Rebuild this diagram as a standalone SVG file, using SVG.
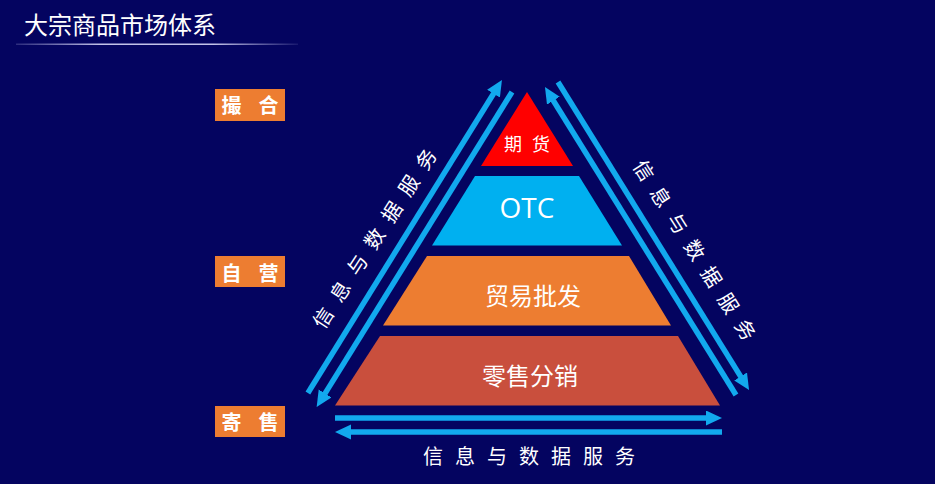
<svg xmlns="http://www.w3.org/2000/svg" width="935" height="484" viewBox="0 0 935 484">
<style>
.cjk{font-family:"Noto Sans CJK SC","Noto Sans",sans-serif;fill:#FFFFFF}
.lbl{font-size:20px;font-weight:bold;text-anchor:middle}
.box{fill:#ED7D31}
.layer{font-size:24px;text-anchor:middle}
.svc{font-size:20px;text-anchor:middle}
.conn{stroke:#12A9EE;stroke-width:5.5;fill:none}
</style>
<defs>
<linearGradient id="ul" x1="0" x2="1" y1="0" y2="0">
<stop offset="0" stop-color="#C8C8F0" stop-opacity="0.2"/>
<stop offset="0.3" stop-color="#D8D8F8" stop-opacity="0.9"/>
<stop offset="0.7" stop-color="#D8D8F8" stop-opacity="0.9"/>
<stop offset="1" stop-color="#C8C8F0" stop-opacity="0.1"/>
</linearGradient>
<marker id="ah" markerUnits="userSpaceOnUse" markerWidth="18" markerHeight="16" refX="7" refY="7.5" orient="auto">
<path d="M0,0 L16,7.5 L0,15 z" fill="#12A9EE"/>
</marker>
</defs>
<rect width="935" height="484" fill="#040460"/>
<g id="title">
<text class="cjk" x="24" y="34" font-size="24">大宗商品市场体系</text>
<rect x="16" y="43.5" width="282" height="1.5" fill="url(#ul)"/>
</g>
<g id="label-cuohe">
<rect class="box" x="215" y="89" width="70" height="32"/>
<text class="cjk lbl" x="231.5 268.5" y="113">撮合</text>
</g>
<g id="label-ziying">
<rect class="box" x="215" y="256" width="70" height="31"/>
<text class="cjk lbl" x="231.5 268.5" y="281">自营</text>
</g>
<g id="label-jishou">
<rect class="box" x="215" y="406" width="70" height="31"/>
<text class="cjk lbl" x="231.5 268.5" y="430">寄售</text>
</g>
<g id="layer-qihuo">
<polygon points="527,92 573,166 481,166" fill="#FF0000"/>
<text class="cjk" x="513 541" y="151" font-size="18" text-anchor="middle">期货</text>
</g>
<g id="layer-otc">
<polygon points="475,176 579,176 622,245.5 432,245.5" fill="#00B0F0"/>
<text x="527" y="218" font-family="'Open Sans','Noto Sans',sans-serif" font-size="28" fill="#FFFFFF" text-anchor="middle">OTC</text>
</g>
<g id="layer-maoyi">
<polygon points="427,256 629,256 671,325.5 383,325.5" fill="#ED7D31"/>
<text class="cjk layer" x="533" y="305">贸易批发</text>
</g>
<g id="layer-lingshou">
<polygon points="380,336 678,336 720,405.5 335,405.5" fill="#C94F3D"/>
<text class="cjk layer" x="530" y="385">零售分销</text>
</g>
<g id="connectors">
<line class="conn" x1="307.9" y1="393" x2="497.2" y2="87.7" marker-end="url(#ah)"/>
<line class="conn" x1="512" y1="92" x2="321.4" y2="399.4" marker-end="url(#ah)"/>
<line class="conn" x1="736" y1="395" x2="549.7" y2="94.7" marker-end="url(#ah)"/>
<line class="conn" x1="558" y1="82" x2="744.3" y2="382.4" marker-end="url(#ah)"/>
<line class="conn" x1="335" y1="418" x2="713" y2="418" marker-end="url(#ah)"/>
<line class="conn" x1="722" y1="432" x2="344" y2="432" marker-end="url(#ah)"/>
</g>
<g id="connector-labels">
<g transform="translate(374.8,238.7) rotate(-57)">
<text class="cjk svc" x="-94.5 -78.75 -63 -47.25 -31.5 -15.75 0 15.75 31.5 47.25 63 78.75 94.5" y="7">信 息 与 数 据 服 务</text>
</g>
<g transform="translate(694.2,250.3) rotate(57.5)">
<text class="cjk svc" x="-94.5 -78.75 -63 -47.25 -31.5 -15.75 0 15.75 31.5 47.25 63 78.75 94.5" y="7">信 息 与 数 据 服 务</text>
</g>
<text class="cjk svc" x="433 449 465 481 497 513 529 545 561 577 593 609 625" y="464">信 息 与 数 据 服 务</text>
</g>
</svg>
